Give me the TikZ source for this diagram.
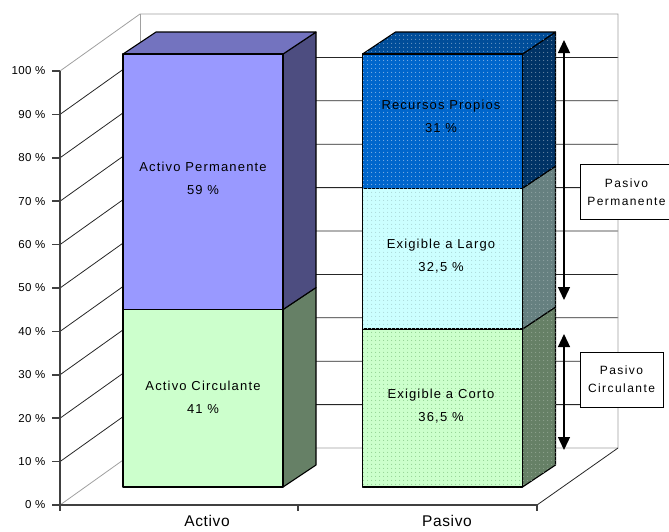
\documentclass[tikz,border=0pt]{standalone}
\usepackage{fontspec}
\setmainfont{Liberation Sans}
\newfontfamily\chartfont[LetterSpace=9]{Liberation Sans}
\newfontfamily\axisfont[LetterSpace=3]{Liberation Sans}
\newfontfamily\boxfont[LetterSpace=12]{Liberation Sans}
\newfontfamily\catfont[LetterSpace=4]{Liberation Sans}
\usetikzlibrary{arrows.meta,patterns.meta}

% face colours of the stacked blocks
\definecolor{apFront}{HTML}{9999FF}
\definecolor{apSide}{HTML}{4D4D80}
\definecolor{apTop}{HTML}{7373BF}
\definecolor{acFront}{HTML}{CCFFCC}
\definecolor{acSide}{HTML}{668066}
\definecolor{rpFront}{HTML}{0066CC}
\definecolor{rpSide}{HTML}{003366}
\definecolor{rpTop}{HTML}{004D99}
\definecolor{elFront}{HTML}{CCFFFF}
\definecolor{elSide}{HTML}{668080}
\definecolor{ecFront}{HTML}{CCFFCC}
\definecolor{ecSide}{HTML}{668066}
\definecolor{frameGray}{HTML}{A0A0A0}
\definecolor{axisGray}{HTML}{404040}

\tikzset{
  grid/.style={draw=black!85, line width=0.8pt},
  frame/.style={draw=frameGray, line width=0.8pt},
  axisline/.style={draw=axisGray, line width=1.6pt},
  face/.style={fill=#1, draw=black, line width=1.1pt, line join=round},
  dotted face/.style 2 args={fill=#1, draw=black, line width=1.1pt, line join=round,
    postaction={pattern={Dots[distance=4pt, radius=0.65pt]}, pattern color=#2}},
  barlabel/.style={font=\chartfont\fontsize{13}{23}\selectfont, align=center, inner sep=0pt},
  ticklabel/.style={font=\axisfont\fontsize{11.5}{12}\selectfont, anchor=east, inner sep=0pt},
  catlabel/.style={font=\catfont\fontsize{15.5}{18}\selectfont, inner sep=0pt},
  legendbox/.style={draw=black, fill=white, line width=1pt, align=center,
    font=\boxfont\fontsize{12}{18}\selectfont, minimum height=55pt, inner sep=0pt},
  dimarrow/.style={draw=black, line width=1.3pt,
    {Triangle[width=12pt, length=13pt]}-{Triangle[width=12pt, length=13pt]}}
}

\begin{document}
\begin{tikzpicture}[x=1pt, y=-1pt]
\useasboundingbox (0,0) rectangle (669,531);
\clip (0,0) rectangle (669,531);

% ---- walls and floor of the chart box ----
\foreach \k in {1,...,9} {
  \draw[grid] (60,{505-43.4*\k}) -- (140,{448-43.4*\k}) -- (618,{448-43.4*\k});
}
\draw[frame] (60,505) -- (140,448) -- (618,448);
\draw[frame] (60,71) -- (140,14) -- (618,14) -- (618,448);
\draw[frame] (140,14) -- (140,448);
\draw[grid] (618,448) -- (537,505);

% ---- Activo block ----
% Activo Circulante (0..41 %)
\path[face=acSide] (283,487) -- (316,465) -- (316,287.5) -- (283,309.5) -- cycle;
\path[face=acFront] (123,487) rectangle (283,309.5);
% Activo Permanente (41..100 %)
\path[face=apSide] (283,309.5) -- (316,287.5) -- (316,32) -- (283,54) -- cycle;
\path[face=apTop] (123,54) -- (283,54) -- (316,32) -- (156,32) -- cycle;
\path[face=apFront] (123,309.5) rectangle (283,54);

% ---- Pasivo block ----
% Exigible a Corto (0..36,5 %)
\path[dotted face={ecSide}{ecSide!70!white}] (522.5,487) -- (555.5,465) -- (555.5,307) -- (522.5,329) -- cycle;
\path[dotted face={ecFront}{ecFront!80!black!90!green}] (362.5,487) rectangle (522.5,329);
% Exigible a Largo (36,5..69 %)
\path[dotted face={elSide}{elSide!70!white}] (522.5,329) -- (555.5,307) -- (555.5,166.2) -- (522.5,188.2) -- cycle;
\path[dotted face={elFront}{elFront!85!black}] (362.5,329) rectangle (522.5,188.2);
% Recursos Propios (69..100 %)
\path[dotted face={rpSide}{rpSide!55!white}] (522.5,188.2) -- (555.5,166.2) -- (555.5,32) -- (522.5,54) -- cycle;
\path[dotted face={rpTop}{rpTop!55!white}] (362.5,54) -- (522.5,54) -- (555.5,32) -- (395.5,32) -- cycle;
\path[dotted face={rpFront}{rpFront!50!white}] (362.5,188.2) rectangle (522.5,54);

% ---- block labels ----
\node[barlabel] (apLabel) at (203,178) {Activo Permanente\\59 \%};
\node[barlabel] (acLabel) at (203,397) {Activo Circulante\\41 \%};
\node[barlabel] (rpLabel) at (441,116) {Recursos Propios\\31 \%};
\node[barlabel] (elLabel) at (441,256) {Exigible a Largo\\32,5 \%};
\node[barlabel] (ecLabel) at (441,406) {Exigible a Corto\\36,5 \%};

% ---- value axis ----
\draw[axisline] (60,71) -- (60,511);
\foreach \k in {0,...,10} {
  \draw[axisline] (52,{505-43.4*\k}) -- (60,{505-43.4*\k});
  \node[ticklabel] (tick\k) at (45.5,{505-43.4*\k}) {\the\numexpr\k*10\relax\ \%};
}

% ---- category axis ----
\draw[axisline] (60,505) -- (537,505);
\draw[axisline] (298,505) -- (298,511);
\draw[axisline] (537,505) -- (537,511);
\node[catlabel] (catA) at (207,521) {Activo};
\node[catlabel] (catP) at (447,521) {Pasivo};

% ---- span arrows and their captions ----
\coordinate (ppTop) at (564,40);
\coordinate (ppBot) at (564,300);
\coordinate (pcTop) at (564,334);
\coordinate (pcBot) at (564,450);
\draw[dimarrow] (ppTop) -- (ppBot);
\draw[dimarrow] (pcTop) -- (pcBot);
\node[legendbox, minimum width=93pt] (ppBox) at (626.5,192) {Pasivo\\Permanente};
\node[legendbox, minimum width=83pt] (pcBox) at (621.5,379.5) {Pasivo\\Circulante};
\end{tikzpicture}
\end{document}
